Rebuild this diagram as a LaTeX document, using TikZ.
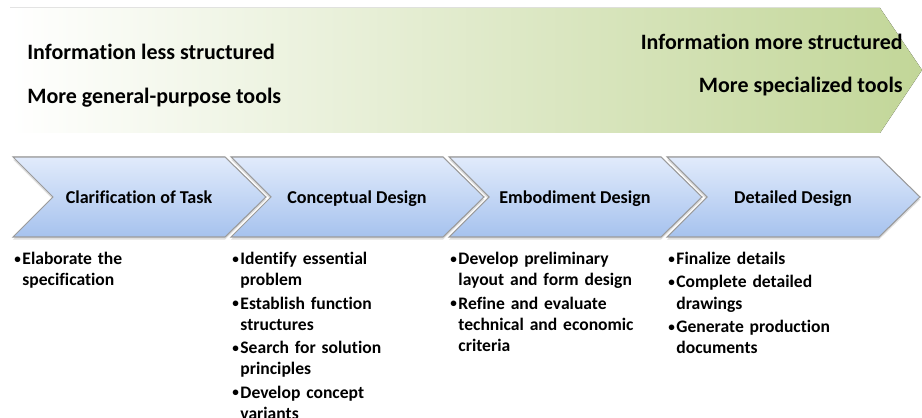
\documentclass[tikz,border=0pt]{standalone}
\usepackage{fontspec}
\setmainfont{Carlito}[Ligatures=CommonOff]
\usetikzlibrary{shadows}
\usetikzlibrary{calc}

\definecolor{topgreen}{RGB}{194,214,152}
\definecolor{chevtop}{RGB}{225,235,251}
\definecolor{chevbot}{RGB}{166,194,238}
\definecolor{chevline}{RGB}{155,155,155}

\newcommand{\task}[1]{\hangindent=4.6pt\hangafter=1\noindent
  \makebox[4.6pt][l]{\raisebox{0.15ex}{\fontsize{7.5}{7.5}\selectfont\textbullet}}#1\par}

\tikzset{
  chevron/.style={draw=chevline, line width=0.6pt, top color=chevtop, bottom color=chevbot,
    drop shadow={opacity=0.25, shadow xshift=0pt, shadow yshift=-1.5pt}},
  phase/.style={font=\bfseries\fontsize{10.3}{12}\selectfont, anchor=mid},
  toplabel/.style={font=\bfseries\fontsize{12.5}{14}\selectfont, inner sep=0pt},
  tasks/.style={font=\bfseries\fontsize{10}{12.1}\selectfont, text width=4.2cm, align=left,
    anchor=north west, inner sep=0pt, execute at begin node={\setlength{\parskip}{1.1pt}}}
}

\begin{document}
\begin{tikzpicture}[x=0.02cm, y=-0.02cm]
        \useasboundingbox (0,0) rectangle (922,418);
        \clip (0,0) rectangle (922,418);

        % big arrow at the top
        \fill[left color=white, right color=topgreen]
            (10,8) -- (880,8) -- (922,70) -- (880,133) -- (10,133) -- cycle;
        \node[toplabel, anchor=west] (lessInfo) at (27,52) {Information less structured};
        \node[toplabel, anchor=west] (generalTools) at (27,98) {More general-purpose tools};
        \node[toplabel, anchor=east] (moreInfo) at (903,42) {Information more structured};
        \node[toplabel, anchor=east] (specialTools) at (903,87) {More specialized tools};

        % the four phases
        \coordinate (P1) at (13,157);
        \coordinate (P2) at (231,157);
        \coordinate (P3) at (449,157);
        \coordinate (P4) at (667,157);
        \filldraw[chevron] (P1) -- ++(212,0) -- ++(41,40) -- ++(-41,40) -- ++(-212,0) -- ++(40,-40) -- cycle;
        \filldraw[chevron] (P2) -- ++(212,0) -- ++(41,40) -- ++(-41,40) -- ++(-212,0) -- ++(40,-40) -- cycle;
        \filldraw[chevron] (P3) -- ++(212,0) -- ++(41,40) -- ++(-41,40) -- ++(-212,0) -- ++(40,-40) -- cycle;
        \filldraw[chevron] (P4) -- ++(212,0) -- ++(41,40) -- ++(-41,40) -- ++(-212,0) -- ++(40,-40) -- cycle;

        \node[phase] (clarification) at ($(P1)+(126,42)$) {Clarification of Task};
        \node[phase] (conceptual) at ($(P2)+(126,42)$) {Conceptual Design};
        \node[phase] (embodiment) at ($(P3)+(126,42)$) {Embodiment Design};
        \node[phase] (detailed) at ($(P4)+(126,42)$) {Detailed Design};

        % what happens in each phase
        \node[tasks] (clarTasks) at (14,252) {\task{Elaborate the\newline specification}};
        \node[tasks] (conceptTasks) at (232,252) {\task{Identify essential\newline problem}
            \task{Establish function\newline structures}
            \task{Search for solution\newline principles}
            \task{Develop concept\newline variants}};
        \node[tasks] (embodTasks) at (450,252) {\task{Develop preliminary\newline layout and form design}
            \task{Refine and evaluate\newline technical and economic\newline criteria}};
        \node[tasks] (detailTasks) at (668,252) {\task{Finalize details}
            \task{Complete detailed\newline drawings}
            \task{Generate production\newline documents}};

\end{tikzpicture}
\end{document}
